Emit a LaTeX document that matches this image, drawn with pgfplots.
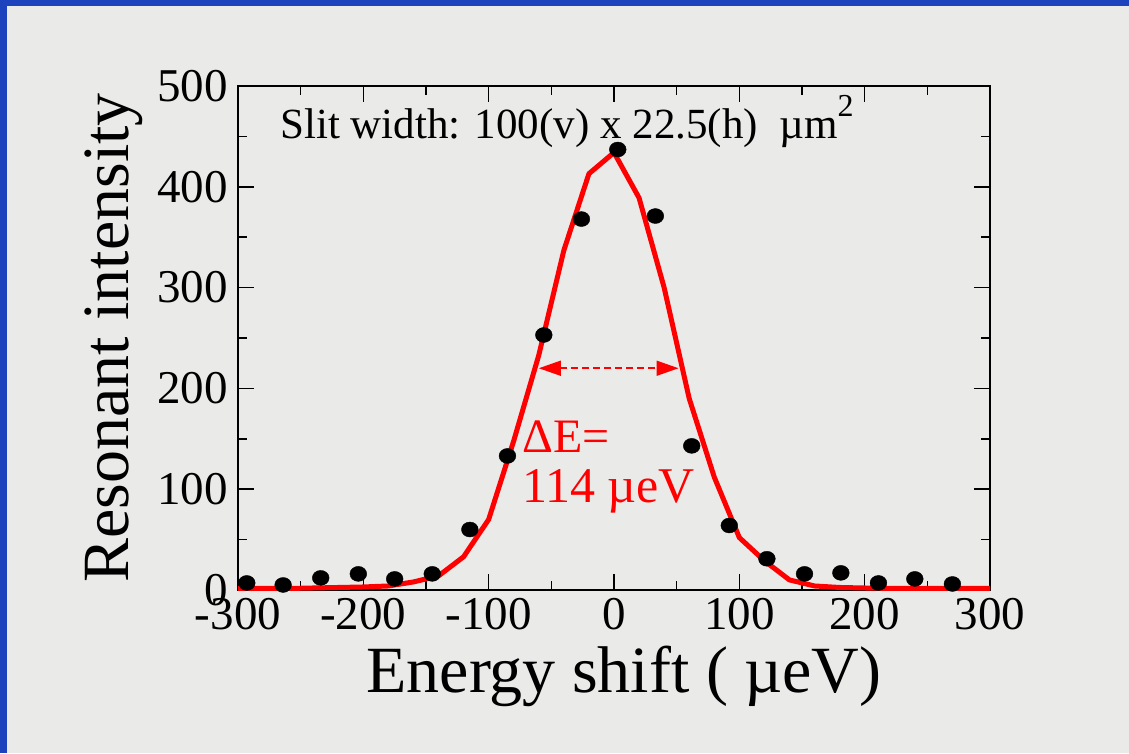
\documentclass[border=0pt]{standalone}
\usepackage{pgfplots}
\pgfplotsset{compat=1.18}
\usepackage{fontspec}
\setmainfont{Liberation Serif}
\usetikzlibrary{arrows.meta}
\definecolor{bg}{RGB}{234,234,232}
\definecolor{frameblue}{RGB}{28,66,190}
\begin{document}
\begin{tikzpicture}[x=1pt,y=1pt]
\path[use as bounding box] (0,0) rectangle (1129,753);
\fill[bg] (0,0) rectangle (1129,753);
\fill[frameblue] (0,747) rectangle (1129,753);
\fill[frameblue] (0,0) rectangle (7,753);
\begin{axis}[
  at={(238pt,163pt)}, anchor=south west,
  scale only axis, width=752pt, height=504pt,
  xmin=-300, xmax=300, ymin=0, ymax=500,
  xtick={-300,-200,...,300}, xticklabels={-300,-200,-100,0,100,200,300},
  ytick={0,100,...,500}, yticklabels={0,100,200,300,400,500},
  minor x tick num=1, minor y tick num=1,
  tick align=inside, major tick length=16pt, minor tick length=9pt,
  every tick/.style={black, line width=1.5pt},
  axis line style={black, line width=1.8pt},
  tick label style={font=\fontsize{47}{50}\selectfont, inner sep=0pt},
  xticklabel style={anchor=north, yshift=-8pt},
  yticklabel style={anchor=east, xshift=-10pt},
  clip=false,
]
\addplot[red, line width=5pt, line join=round] coordinates {
(-300,1.5) (-280,1.5) (-260,1.5) (-240,2) (-220,2.5) (-200,3) (-180,4) (-160,8)
(-140,14) (-120,33) (-100,70) (-80,148) (-60,233) (-40,337) (-20,413) (0,434)
(20,389) (40,300) (60,190) (80,112) (100,52) (120,29) (140,10) (160,4)
(180,2.5) (200,2) (220,1.5) (240,1.5) (260,1.5) (280,1.5) (300,1.5)
};
\addplot[only marks, mark=*, mark size=7.5pt, mark options={black, fill=black, xscale=1.12}] coordinates {
(-293,7) (-264,5) (-234,12) (-204,16) (-175,11) (-145,16) (-115,60) (-85,133)
(-56,253) (-26,368) (3,437) (33,371) (62,143) (92,64) (122,31) (152,16)
(181,17) (211,7) (240,11) (270,6)
};
\draw[red, line width=1.5pt, dash pattern=on 7pt off 4pt,
  {Triangle[length=22pt,width=15pt]}-{Triangle[length=22pt,width=15pt]}]
  (axis cs:-60,220) -- (axis cs:51.5,220);
\node[anchor=base west, inner sep=0pt, text=red, font=\fontsize{48}{50}\selectfont] at (axis cs:-73.3,136) {ΔE=};
\node[anchor=base west, inner sep=0pt, text=red, font=\fontsize{50}{52}\selectfont] at (axis cs:-73.3,87) {114 µeV};
\node[anchor=base west, inner sep=0pt, font=\fontsize{43}{45}\selectfont] at (axis cs:-266.5,448) {Slit width: 100(v) x 22.5(h)~ µm\raisebox{0.5em}{\fontsize{32}{32}\selectfont 2}};
\end{axis}
\node[anchor=base, inner sep=0pt, font=\fontsize{66}{70}\selectfont] at (624,61) {Energy shift ( µeV)};
\node[anchor=base, rotate=90, inner sep=0pt, font=\fontsize{66}{70}\selectfont] at (128,415) {Resonant intensity};
\end{tikzpicture}
\end{document}
